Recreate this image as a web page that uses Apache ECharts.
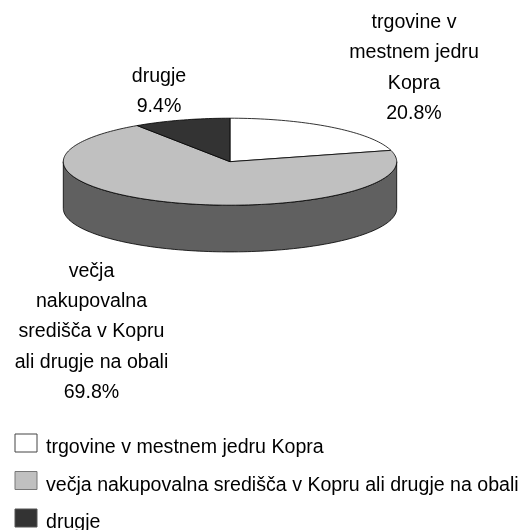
<!DOCTYPE html>
<html><head><meta charset="utf-8">
<style>html,body{margin:0;padding:0;background:#fff;overflow:hidden}#c{width:522px;height:530px}</style>
<script src="https://cdn.jsdelivr.net/npm/echarts@6/dist/echarts.min.js"></script>
</head><body><div id="c"></div>
<script>
const categories = ['trgovine v mestnem jedru Kopra','večja nakupovalna središča v Kopru ali drugje na obali','drugje'];
const shares = [20.8, 69.8, 9.4];
const labelLines = [['trgovine v','mestnem jedru','Kopra'],['večja','nakupovalna','središča v Kopru','ali drugje na obali'],['drugje']];
const colors = ['#ffffff','#c0c0c0','#333333'];
const sideColors = ['#a0a0a0','#606060','#202020'];
const legendBorders = ['#444444','#777777','#555555'];

const FONT = '"Liberation Sans", Arial, sans-serif';
const FS = 19.6;
const cx = 230, cy = 161.7, rx = 166.7, ry = 43.5, depth = 46.7, LH = 30.2;
const labelCenters = [[414, 68],[91.5, 332],[159, 91.5]];
const total = shares.reduce((a, b) => a + b, 0);
const pt = (deg, dy) => {
  const r = deg * Math.PI / 180;
  return [cx + rx * Math.sin(r), cy - ry * Math.cos(r) + (dy || 0)];
};
const arc = (a, b) => {
  const n = Math.max(2, Math.ceil(Math.abs(b - a) / 1.5)), out = [];
  for (let i = 0; i <= n; i++) out.push(pt(a + (b - a) * i / n));
  return out;
};
function renderSlice(idx) {
  return function (params, api) {
    const v = api.value(0);
    let before = 0;
    for (let i = 0; i < idx; i++) before += shares[i];
    const a = before / total * 360, b = (before + v) / total * 360;
    const stroke = { stroke: '#000', lineWidth: 0.8 };
    const children = [];
    const sa = Math.max(a, 90), sb = Math.min(b, 270);
    if (sb > sa) {
      const top = arc(sa, sb);
      const bot = top.slice().reverse().map(p => [p[0], p[1] + depth]);
      children.push({ type: 'polygon', shape: { points: top.concat(bot) },
        style: Object.assign({ fill: sideColors[idx] }, stroke) });
    }
    children.push({ type: 'polygon', shape: { points: [[cx, cy]].concat(arc(a, b)) },
      style: Object.assign({ fill: colors[idx] }, stroke) });
    children.push({ type: 'text', z2: 10, x: labelCenters[idx][0], y: labelCenters[idx][1],
      style: { text: labelLines[idx].concat(v.toFixed(1) + '%').join('\n'), align: 'center', verticalAlign: 'middle',
        font: FS + 'px ' + FONT, lineHeight: LH, fill: '#000' } });
    return { type: 'group', children };
  };
}
const series = categories.map((name, i) => ({
  type: 'custom', name, coordinateSystem: 'none',
  data: [[shares[i]]], renderItem: renderSlice(i), silent: true,
  itemStyle: { color: colors[i] }
}));
const chart = echarts.init(document.getElementById('c'), null, { renderer: 'canvas' });
chart.setOption({
  animation: false,
  backgroundColor: '#fff',
  legend: {
    orient: 'vertical', left: 14.5, top: 428, height: 200, itemWidth: 22, itemHeight: 18, itemGap: 7.5, padding: 0,
    icon: 'rect', selectedMode: false,
    formatter: name => '\n' + name,
    data: categories.map((name, i) => ({ name, itemStyle: { borderColor: legendBorders[i], borderWidth: 1 } })),
    textStyle: { fontFamily: FONT, fontSize: FS, color: '#000', padding: [0, 0, 0, 4], lineHeight: 10 }
  },
  series
});
</script></body></html>
